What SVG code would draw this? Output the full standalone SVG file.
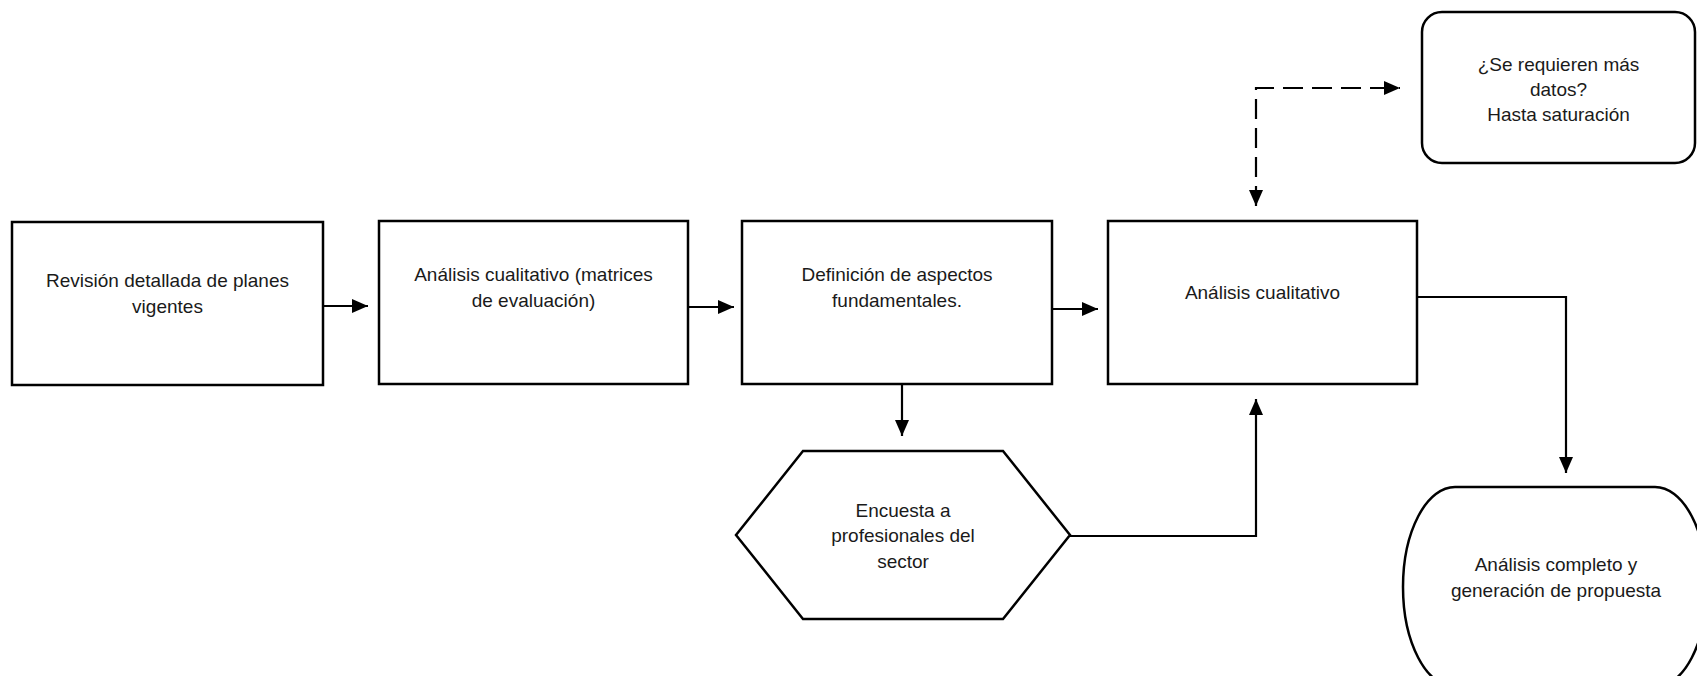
<svg xmlns="http://www.w3.org/2000/svg" width="1697" height="676" viewBox="0 0 1697 676">
<style>
.box{fill:#fff;stroke:#000;stroke-width:2.5}
.lbl{font-family:"Liberation Sans",Arial,sans-serif;font-size:19px;fill:#1a1a1a;text-anchor:middle}
.conn{fill:none;stroke:#000;stroke-width:2.2}
.dash{stroke-dasharray:20 9}
</style>
<defs>
<marker id="arr" viewBox="0 0 16 14" refX="16" refY="7" markerWidth="16" markerHeight="14" markerUnits="userSpaceOnUse" orient="auto-start-reverse">
<path d="M0,0 L16,7 L0,14 z" fill="#000"/>
</marker>
</defs>
<rect width="1697" height="676" fill="#fff"/>
<g id="connectors">
<line class="conn" x1="323" y1="306" x2="368" y2="306" marker-end="url(#arr)"/>
<line class="conn" x1="688" y1="307" x2="734" y2="307" marker-end="url(#arr)"/>
<line class="conn" x1="1052" y1="309" x2="1098" y2="309" marker-end="url(#arr)"/>
<line class="conn" x1="902" y1="384" x2="902" y2="436" marker-end="url(#arr)"/>
<polyline class="conn" points="1070,536 1256,536 1256,399" marker-end="url(#arr)"/>
<polyline class="conn" points="1417,297 1566,297 1566,473" marker-end="url(#arr)"/>
<polyline class="conn dash" points="1256,206 1256,88 1400,88" marker-start="url(#arr)" marker-end="url(#arr)"/>
</g>
<g id="n1">
<rect class="box" x="12" y="222" width="311" height="163"/>
<text class="lbl" x="167.5" y="287">Revisión detallada de planes</text>
<text class="lbl" x="167.5" y="313">vigentes</text>
</g>
<g id="n2">
<rect class="box" x="379" y="221" width="309" height="163"/>
<text class="lbl" x="533.5" y="281">Análisis cualitativo (matrices</text>
<text class="lbl" x="533.5" y="307">de evaluación)</text>
</g>
<g id="n3">
<rect class="box" x="742" y="221" width="310" height="163"/>
<text class="lbl" x="897" y="281">Definición de aspectos</text>
<text class="lbl" x="897" y="307">fundamentales.</text>
</g>
<g id="n4">
<rect class="box" x="1108" y="221" width="309" height="163"/>
<text class="lbl" x="1262.5" y="299">Análisis cualitativo</text>
</g>
<g id="n5">
<polygon class="box" points="736,535 803,451 1003,451 1070,535 1003,619 803,619"/>
<text class="lbl" x="903" y="517">Encuesta a</text>
<text class="lbl" x="903" y="542">profesionales del</text>
<text class="lbl" x="903" y="568">sector</text>
</g>
<g id="n6">
<rect class="box" x="1422" y="12" width="273" height="151" rx="20" ry="20"/>
<text class="lbl" x="1558.5" y="71">¿Se requieren más</text>
<text class="lbl" x="1558.5" y="96">datos?</text>
<text class="lbl" x="1558.5" y="121">Hasta saturación</text>
</g>
<g id="n7">
<rect class="box" x="1403" y="487" width="304" height="200" rx="52" ry="100"/>
<text class="lbl" x="1556" y="571">Análisis completo y</text>
<text class="lbl" x="1556" y="597">generación de propuesta</text>
</g>
</svg>
